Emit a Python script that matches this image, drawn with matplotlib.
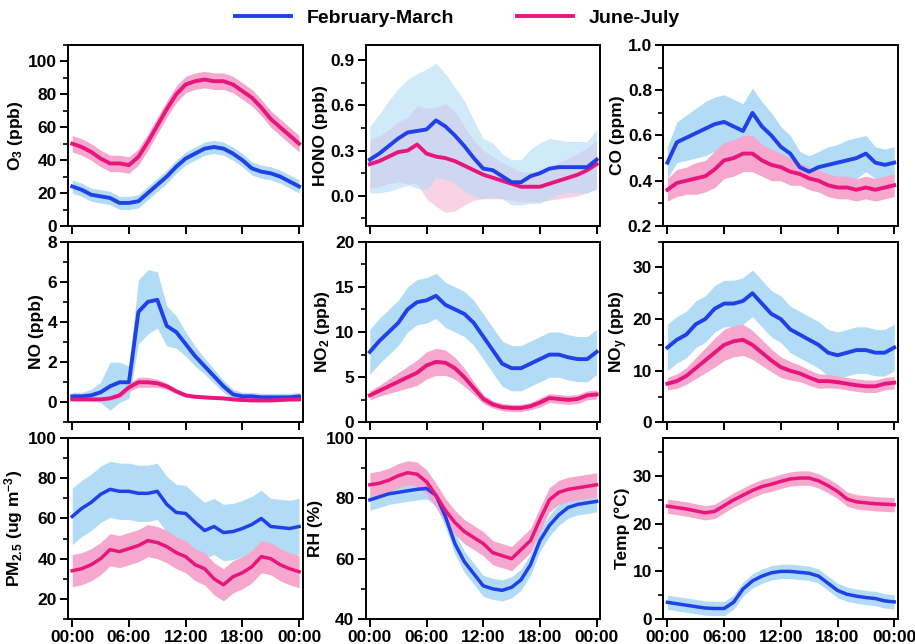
import numpy as np
import matplotlib.pyplot as plt
from matplotlib.ticker import AutoMinorLocator, MultipleLocator

plt.rcParams['font.family'] = ['Liberation Sans', 'DejaVu Sans']
plt.rcParams['font.weight'] = 'bold'
plt.rcParams['mathtext.fontset'] = 'custom'
plt.rcParams['mathtext.rm'] = 'Liberation Sans:bold'
plt.rcParams['mathtext.bf'] = 'Liberation Sans:bold'
plt.rcParams['mathtext.default'] = 'bf'

hours = np.arange(25)
tick_hours = [0, 6, 12, 18, 24]
tick_labels = ['00:00', '06:00', '12:00', '18:00', '00:00']

# mean values, February-March (winter) and June-July (summer), hourly
o3_w = [24, 22, 19, 18, 17, 14, 14, 15, 20, 25, 30, 36, 41, 44, 47, 48, 47, 44, 40, 35, 33, 32, 30, 27, 24]
o3_s = [50, 48, 45, 41, 38, 38, 37, 42, 51, 61, 71, 80, 86, 88, 89, 88, 88, 86, 82, 78, 72, 65, 60, 55, 50]
o3_w_sd = [4] * 25
o3_s_sd = [5] * 25

hono_w = [0.24, 0.28, 0.33, 0.38, 0.42, 0.43, 0.44, 0.50, 0.46, 0.40, 0.33, 0.25, 0.18,
          0.17, 0.13, 0.09, 0.09, 0.13, 0.15, 0.18, 0.19, 0.19, 0.19, 0.19, 0.24]
hono_s = [0.21, 0.23, 0.26, 0.29, 0.30, 0.34, 0.28, 0.26, 0.25, 0.23, 0.20, 0.17, 0.14,
          0.12, 0.10, 0.08, 0.06, 0.06, 0.06, 0.08, 0.10, 0.12, 0.14, 0.17, 0.21]
hono_w_sd = [0.22, 0.26, 0.30, 0.33, 0.35, 0.38, 0.40, 0.38, 0.35, 0.32, 0.30, 0.25, 0.20,
             0.18, 0.15, 0.15, 0.15, 0.18, 0.20, 0.20, 0.18, 0.17, 0.17, 0.17, 0.20]
hono_s_sd = [0.16, 0.17, 0.18, 0.20, 0.22, 0.26, 0.30, 0.33, 0.36, 0.33, 0.26, 0.20, 0.16,
             0.14, 0.12, 0.11, 0.10, 0.10, 0.10, 0.11, 0.12, 0.13, 0.14, 0.15, 0.16]

co_w = [0.48, 0.57, 0.59, 0.61, 0.63, 0.65, 0.66, 0.64, 0.62, 0.70, 0.64, 0.60, 0.55,
        0.52, 0.46, 0.44, 0.46, 0.47, 0.48, 0.49, 0.50, 0.52, 0.48, 0.47, 0.48]
co_s = [0.36, 0.39, 0.40, 0.41, 0.42, 0.45, 0.49, 0.50, 0.52, 0.52, 0.49, 0.47, 0.46,
        0.44, 0.43, 0.41, 0.40, 0.38, 0.37, 0.37, 0.36, 0.37, 0.36, 0.37, 0.38]
co_w_sd = [0.07, 0.09, 0.10, 0.11, 0.12, 0.12, 0.12, 0.12, 0.12, 0.11, 0.11, 0.10, 0.09,
           0.08, 0.07, 0.07, 0.07, 0.08, 0.08, 0.09, 0.09, 0.08, 0.07, 0.07, 0.07]
co_s_sd = [0.05, 0.06, 0.06, 0.07, 0.07, 0.08, 0.08, 0.08, 0.08, 0.08, 0.07, 0.07, 0.06,
           0.06, 0.05, 0.05, 0.05, 0.05, 0.05, 0.05, 0.05, 0.05, 0.05, 0.05, 0.05]

no_w = [0.3, 0.3, 0.35, 0.5, 0.8, 1.0, 1.0, 4.5, 5.0, 5.1, 3.8, 3.5, 2.9,
        2.3, 1.8, 1.3, 0.8, 0.4, 0.3, 0.3, 0.25, 0.25, 0.25, 0.25, 0.3]
no_s = [0.15, 0.15, 0.15, 0.15, 0.2, 0.35, 0.75, 1.0, 1.0, 0.95, 0.8, 0.55, 0.35,
        0.28, 0.25, 0.22, 0.2, 0.15, 0.12, 0.1, 0.1, 0.1, 0.12, 0.15, 0.15]
no_w_sd = [0.2, 0.2, 0.3, 0.5, 1.2, 1.0, 0.8, 1.6, 1.6, 1.4, 1.0, 0.8, 0.6,
           0.5, 0.4, 0.35, 0.3, 0.25, 0.2, 0.2, 0.2, 0.2, 0.2, 0.2, 0.2]
no_s_sd = [0.08, 0.08, 0.08, 0.08, 0.1, 0.15, 0.2, 0.25, 0.25, 0.2, 0.15, 0.12, 0.1,
           0.08, 0.08, 0.08, 0.08, 0.08, 0.08, 0.08, 0.08, 0.08, 0.08, 0.08, 0.08]

no2_w = [7.8, 9.0, 10.0, 11.0, 12.5, 13.3, 13.5, 14.0, 13.0, 12.5, 12.0, 11.0, 9.5,
         8.0, 6.5, 6.0, 6.0, 6.5, 7.0, 7.5, 7.5, 7.2, 7.0, 7.0, 7.8]
no2_s = [3.0, 3.5, 4.0, 4.5, 5.0, 5.5, 6.3, 6.7, 6.6, 6.0, 5.0, 3.8, 2.6,
         2.0, 1.7, 1.6, 1.6, 1.8, 2.2, 2.7, 2.6, 2.5, 2.6, 3.0, 3.1]
no2_w_sd = [2.5] * 25
no2_s_sd = [0.5, 0.6, 0.8, 1.0, 1.2, 1.4, 1.5, 1.5, 1.4, 1.2, 1.0, 0.7, 0.5,
            0.4, 0.4, 0.4, 0.4, 0.4, 0.5, 0.5, 0.5, 0.5, 0.5, 0.5, 0.5]

noy_w = [14.5, 16, 17, 19, 20, 22, 23, 23, 23.5, 25, 23, 21, 20,
         18, 17, 16, 15, 13.5, 13, 13.5, 14, 14, 13.5, 13.5, 14.5]
noy_s = [7.5, 8.0, 9.0, 10.5, 12.0, 13.5, 15.0, 15.7, 16.0, 15.0, 13.5, 12.0, 10.7,
         10.0, 9.5, 8.7, 8.0, 8.0, 7.8, 7.5, 7.2, 7.0, 7.0, 7.5, 7.7]
noy_w_sd = [4.5] * 25
noy_s_sd = [1.2, 1.4, 1.6, 2.0, 2.4, 2.8, 3.0, 3.0, 3.0, 2.8, 2.5, 2.2, 2.0,
            1.8, 1.6, 1.5, 1.4, 1.3, 1.2, 1.2, 1.2, 1.2, 1.2, 1.2, 1.2]

pm_w = [61, 65, 68, 72, 74.5, 73.5, 73.5, 72.5, 72.5, 73.5, 67, 63, 62.5,
        58, 54, 56, 53, 53.5, 55, 57, 60, 56, 55.5, 55, 56]
pm_s = [34, 35, 37, 40, 44.5, 43.5, 45, 46.5, 49, 48, 46, 43, 41,
        37, 35, 30, 27, 31, 33, 36, 41, 40, 37, 35, 33.5]
pm_w_sd = [14] * 25
pm_s_sd = [8] * 25

rh_w = [79.5, 80.5, 81.5, 82, 82.5, 83, 83.3, 81, 74, 65, 59, 55, 51,
        50, 49.5, 50.5, 53, 58, 66, 71, 74.5, 77, 78, 78.5, 79]
rh_s = [84.5, 85, 86, 87.5, 88.5, 88, 85.5, 81, 76, 72, 69, 67, 65,
        62, 61, 60, 63, 66, 73, 79.5, 82, 83, 83.5, 84, 84.5]
rh_w_sd = [3.5] * 25
rh_s_sd = [4] * 25

temp_w = [3.5, 3.2, 2.9, 2.6, 2.3, 2.2, 2.2, 3.5, 6.3, 8.0, 9.0, 9.7, 10.0,
          10.0, 9.8, 9.6, 9.0, 7.5, 6.0, 5.2, 4.8, 4.5, 4.3, 3.8, 3.6]
temp_s = [23.7, 23.4, 23.1, 22.7, 22.3, 22.6, 23.8, 25, 26, 27, 27.8, 28.3, 28.9,
          29.4, 29.6, 29.6, 29, 28, 26.8, 25.2, 24.6, 24.4, 24.2, 24.1, 24.0]
temp_w_sd = [1.5] * 25
temp_s_sd = [1.5] * 25

blue = '#2040e8'
blue_fill = '#b2dcf6'
pink = '#e8157d'
pink_fill = '#f5a7cd'

panels = [
    ('O$_3$ (ppb)', o3_w, o3_w_sd, o3_s, o3_s_sd, (0, 110), 20),
    ('HONO (ppb)', hono_w, hono_w_sd, hono_s, hono_s_sd, (-0.2, 1.0), 0.3),
    ('CO (ppm)', co_w, co_w_sd, co_s, co_s_sd, (0.2, 1.0), 0.2),
    ('NO (ppb)', no_w, no_w_sd, no_s, no_s_sd, (-1, 8), 2),
    ('NO$_2$ (ppb)', no2_w, no2_w_sd, no2_s, no2_s_sd, (0, 20), 5),
    ('NO$_y$ (ppb)', noy_w, noy_w_sd, noy_s, noy_s_sd, (0, 35), 10),
    ('PM$_{2.5}$ (ug m$^{-3}$)', pm_w, pm_w_sd, pm_s, pm_s_sd, (10, 100), 20),
    ('RH (%)', rh_w, rh_w_sd, rh_s, rh_s_sd, (40, 100), 20),
    ('Temp (°C)', temp_w, temp_w_sd, temp_s, temp_s_sd, (0, 38), 10),
]

fig, axes = plt.subplots(3, 3, figsize=(9.15, 6.44), dpi=100)
fig.subplots_adjust(left=68 / 915, right=898 / 915, top=1 - 45 / 644,
                    bottom=1 - 619 / 644, wspace=0.267, hspace=0.086)

for i, (ax, p) in enumerate(zip(axes.flat, panels)):
    label, w, w_sd, s, s_sd, ylim, step = p
    w, w_sd, s, s_sd = map(np.array, (w, w_sd, s, s_sd))
    lw = 2.8 if i < 6 else 2.5
    if i == 1:
        # HONO: translucent bands over each other
        ax.fill_between(hours, s - s_sd, s + s_sd, color=pink_fill, alpha=0.5, lw=0)
        ax.plot(hours, s, color=pink, lw=lw)
        ax.fill_between(hours, w - w_sd, w + w_sd, color=blue_fill, alpha=0.6, lw=0)
        ax.plot(hours, w, color=blue, lw=lw)
    else:
        ax.fill_between(hours, w - w_sd, w + w_sd, color=blue_fill, lw=0)
        ax.fill_between(hours, s - s_sd, s + s_sd, color=pink_fill, lw=0)
        ax.plot(hours, w, color=blue, lw=lw)
        ax.plot(hours, s, color=pink, lw=lw)
    ax.set_xlim(-0.45, 24.4)
    ax.set_ylim(*ylim)
    ax.yaxis.set_major_locator(MultipleLocator(step))
    ax.yaxis.set_minor_locator(AutoMinorLocator(2))
    ax.set_xticks(tick_hours)
    if i >= 6:
        ax.set_xticklabels(tick_labels, fontsize=12.5, fontweight='bold')
    else:
        ax.set_xticklabels([])
    ax.set_ylabel(label, fontsize=12.5, fontweight='bold', labelpad=2)
    ax.tick_params(axis='both', which='major', direction='out', length=6, width=1.4,
                   labelsize=12.5, pad=2)
    ax.tick_params(axis='y', which='minor', direction='out', length=3.5, width=1.2)
    for sp in ax.spines.values():
        sp.set_linewidth(1.4)
    for t in ax.get_yticklabels():
        t.set_fontweight('bold')
    if i == 1:
        ax.set_yticklabels(['%.1f' % v for v in ax.get_yticks()])

handles = [plt.Line2D([], [], color=blue, lw=2.8), plt.Line2D([], [], color=pink, lw=2.8)]
fig.legend(handles, ['February-March', 'June-July'], loc='center', ncol=2,
           bbox_to_anchor=(0.5, 0.972), frameon=False, handlelength=2.9,
           columnspacing=3.2, prop={'weight': 'bold', 'size': 14})

fig.savefig('out.png', dpi=100)
